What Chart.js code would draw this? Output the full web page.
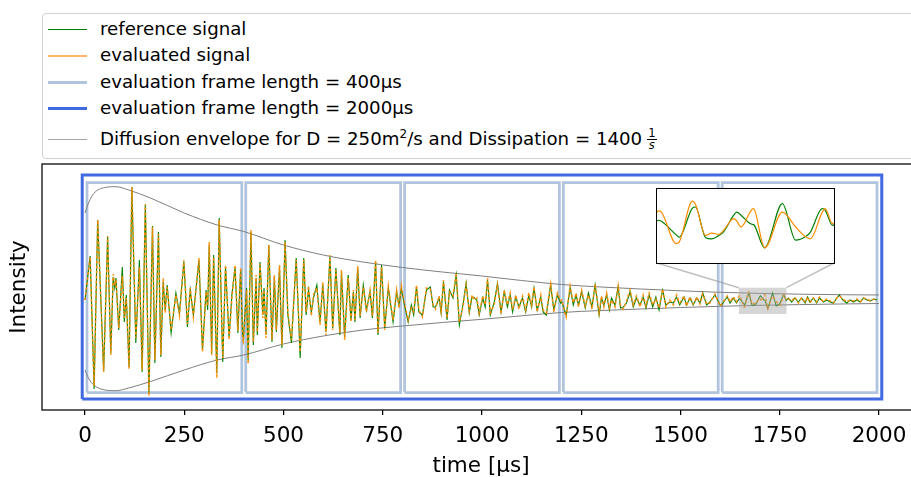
<!DOCTYPE html>
<html>
<head>
<meta charset="utf-8">
<script src="https://cdn.jsdelivr.net/npm/chart.js@4.4.1/dist/chart.umd.min.js"></script>
<style>
  html, body { margin: 0; padding: 0; background: #fff; overflow: hidden; }
  body { width: 911px; height: 477px; position: relative; font-family: "DejaVu Sans", sans-serif; color: #000; }
  #wrap { position: absolute; left: 0; top: 0; width: 920px; height: 477px; }
  #insetBox { position: absolute; left: 656px; top: 188px; width: 179px; height: 76px;
              border: 1.5px solid #000; box-sizing: border-box; background: #fff; }
  #legend { position: absolute; left: 42px; top: 13px; width: 900px; height: 146px;
            border: 1px solid #d0d0d0; border-radius: 4px; box-sizing: border-box; background: #fff; }
  .row { position: absolute; left: 0; height: 22px; width: 880px; font-size: 18.2px; }
  .sw { position: absolute; left: 5px; width: 39px; }
  .lbl { position: absolute; left: 57px; top: 0; height: 22px; line-height: 22px; white-space: nowrap; }
  .frac { display: inline-flex; flex-direction: column; align-items: center; vertical-align: middle;
          font-size: 11.5px; line-height: 10.5px; margin-left: 5px; position: relative; top: -1px; }
  .frac .num { border-bottom: 1px solid #000; padding: 0 1px; }
  sup { font-size: 12px; vertical-align: 7px; line-height: 0; }
</style>
</head>
<body>
<div id="wrap"><canvas id="chartSignal"></canvas></div>
<div id="insetBox"><canvas id="chartInset"></canvas></div>
<div id="legend">
  <div class="row" style="top:4px"><div class="sw" style="top:11px;height:1px;background:#008000"></div><div class="lbl">reference signal</div></div>
  <div class="row" style="top:30px"><div class="sw" style="top:11px;height:2px;background:#ffb766"></div><div class="lbl">evaluated signal</div></div>
  <div class="row" style="top:57px"><div class="sw" style="top:10px;height:3px;background:#b0c4de"></div><div class="lbl">evaluation frame length = 400µs</div></div>
  <div class="row" style="top:83px"><div class="sw" style="top:10px;height:3px;background:#4169e1"></div><div class="lbl">evaluation frame length = 2000µs</div></div>
  <div class="row" style="top:114px"><div class="sw" style="top:11px;height:1px;background:#a6a6a6"></div><div class="lbl">Diffusion envelope for D = 250m<sup>2</sup>/s and Dissipation = 1400<span class="frac"><span class="num">1</span><span class="den"><i>s</i></span></span></div></div>
</div>
<script>
// ===== Datos =====
const xTicks = [0, 250, 500, 750, 1000, 1250, 1500, 1750, 2000];

// tiempo [µs]
const signalTime = [
  0, 13, 23, 32, 47, 57, 65, 71, 75, 78, 85, 94, 99, 104, 111, 118, 128, 137, 144, 152,
  161, 170, 176, 185, 191, 197, 202, 207, 217, 229, 238, 249, 258, 265, 273, 287, 296, 305, 309, 313,
  319, 324, 332, 338, 347, 354, 363, 370, 378, 385, 392, 397,
  399, 407, 411, 418, 424, 431, 434, 441, 448, 451, 456, 463, 471, 477, 482, 490, 496, 504, 511, 520,
  532, 542, 551, 557, 563, 570, 576, 584, 592, 599, 607, 617, 624, 632, 642, 646, 654, 663, 670, 676,
  680, 687, 693, 701, 709, 718, 724, 732, 738, 747, 755, 764, 776, 785, 791,
  797, 803, 814, 822, 828, 835, 841, 850, 860, 870, 877, 883, 892, 897, 903, 912, 918, 927, 935, 943,
  952, 960, 968, 975, 981, 987, 993, 1002, 1008, 1014, 1021, 1031, 1039, 1048, 1056, 1064, 1071, 1077, 1085, 1093,
  1102, 1110, 1118, 1125, 1131, 1139, 1148, 1154, 1162, 1173, 1181, 1190, 1198,
  1201, 1212, 1222, 1230, 1237, 1243, 1251, 1260, 1268, 1277, 1285, 1295, 1301, 1307, 1314, 1321, 1326, 1335, 1343, 1349,
  1356, 1364, 1373, 1381, 1389, 1398, 1406, 1413, 1421, 1430, 1438, 1446, 1455, 1463, 1473, 1482, 1490, 1498, 1509, 1515,
  1524, 1532, 1541, 1549, 1556, 1566, 1574, 1587, 1600,
  1604, 1612, 1618, 1625, 1633, 1641, 1648, 1650, 1660, 1662, 1671, 1673, 1680, 1684, 1689, 1692, 1699, 1701, 1704, 1710,
  1712, 1713, 1720, 1732, 1741, 1748, 1751, 1759, 1761, 1766, 1772, 1780, 1788, 1797, 1805, 1814, 1820, 1826, 1835, 1843,
  1850, 1860, 1868, 1877, 1885, 1894, 1900, 1909, 1919, 1927, 1936, 1944, 1953, 1961, 1970, 1978, 1987, 1995
];

const referenceSignal = [
  0, 0.44, -0.89, 0.80, -0.71, 0.63, -0.53, 0.23, 0.12, 0.22, -0.30, 0.33, -0.22, 0.05, -0.67, 1.13, -0.43, 0.40, -0.72, 0.95,
  -0.93, 0.74, -0.63, 0.68, -0.57, 0.18, -0.10, 0.15, -0.33, 0.07, -0.13, 0.38, -0.27, 0.10, -0.15, 0.40, -0.50, 0.10, -0.10, 0.55,
  -0.53, 0.45, -0.73, 0.82, -0.62, 0.33, -0.37, 0.05, 0.33, -0.33, 0.30, -0.35,
  -0.38, 0.12, -0.60, 0.68, -0.45, 0.22, -0.35, 0.38, -0.15, 0.12, -0.35, 0.55, -0.42, 0.23, -0.32, 0.33, -0.48, 0.60, -0.15, -0.43,
  0.42, -0.58, 0.42, -0.15, 0.10, -0.12, 0.03, 0.15, -0.22, 0.15, -0.32, 0.43, -0.28, 0.32, -0.35, 0.28, -0.37, 0.25, -0.20, 0.08,
  -0.22, 0.32, -0.18, 0.15, -0.10, 0.08, -0.18, 0.38, -0.35, 0.35, -0.28, 0.12, -0.22, 0.08, -0.05,
  0.12, -0.02, -0.22, -0.05, -0.15, 0.13, -0.12, -0.15, 0.10, 0.13, -0.07, -0.07, 0.02, -0.13, 0.18, -0.20, 0.10, 0.02, 0.25, -0.25,
  -0.05, 0.17, -0.13, 0.03, 0.02, 0.00, -0.15, 0.02, -0.07, 0.20, -0.15, -0.02, 0.17, -0.12, 0.08, -0.07, 0.05, -0.12, 0.03, -0.07,
  0.02, -0.12, 0.05, -0.07, 0.12, -0.10, 0.03, -0.12, -0.15, 0.15, -0.10, 0.05, -0.03,
  -0.02, -0.15, 0.12, -0.05, 0.05, -0.05, 0.08, -0.08, 0.07, -0.07, 0.15, -0.15, 0.02, -0.05, 0.05, -0.10, 0.02, -0.05, 0.13, -0.08,
  -0.07, -0.03, 0.08, -0.07, 0.02, -0.05, 0.03, -0.08, 0.05, -0.07, 0.03, -0.10, 0.10, -0.05, -0.02, -0.03, 0.03, -0.05, 0.03, -0.05,
  0.02, -0.05, 0.02, -0.03, 0.07, -0.05, -0.02, 0.05, -0.05,
  -0.05, 0.00, 0.03, -0.03, 0.02, -0.03, 0.012, 0.008, -0.040, -0.048, 0.055, 0.059, -0.050, -0.054, -0.042, -0.030, 0.030, 0.041, 0.030, 0.000,
  -0.003, -0.006, -0.086, 0.071, -0.059, -0.045, -0.030, 0.053, 0.048, -0.006, 0.02, -0.02, 0.02, -0.02, 0.02, -0.03, 0.03, -0.02, 0.02, -0.03,
  0.02, -0.02, 0.00, -0.02, -0.03, 0.02, 0.05, 0.00, -0.03, 0.00, -0.02, 0.00, -0.02, 0.02, 0.00, -0.01, 0.01, 0.00
];

const evaluatedSignal = [
  0, 0.43, -0.86, 0.80, -0.72, 0.64, -0.55, 0.26, 0.14, 0.20, -0.28, 0.24, -0.18, 0.02, -0.69, 1.13, -0.38, 0.33, -0.70, 0.96,
  -0.96, 0.73, -0.60, 0.66, -0.55, 0.22, -0.13, 0.13, -0.30, 0.05, -0.16, 0.40, -0.24, 0.12, -0.17, 0.42, -0.52, 0.08, -0.06, 0.58,
  -0.55, 0.43, -0.78, 0.80, -0.58, 0.35, -0.40, 0.02, 0.35, -0.31, 0.32, -0.40,
  -0.42, 0.10, -0.64, 0.70, -0.42, 0.25, -0.32, 0.36, -0.18, 0.10, -0.38, 0.55, -0.40, 0.25, -0.30, 0.35, -0.45, 0.58, -0.12, -0.40,
  0.40, -0.52, 0.40, -0.12, 0.14, -0.16, 0.06, 0.12, -0.25, 0.18, -0.35, 0.45, -0.30, 0.30, -0.33, 0.30, -0.40, 0.22, -0.22, 0.10,
  -0.20, 0.34, -0.16, 0.13, -0.12, 0.10, -0.16, 0.40, -0.33, 0.33, -0.30, 0.14, -0.20, 0.10, -0.08,
  0.14, 0.00, -0.20, -0.08, -0.12, 0.15, -0.10, -0.17, 0.12, 0.11, -0.05, -0.09, 0.04, -0.11, 0.20, -0.18, 0.08, 0.04, 0.27, -0.22,
  -0.07, 0.15, -0.11, 0.05, 0.00, 0.02, -0.13, 0.04, -0.05, 0.22, -0.13, -0.04, 0.15, -0.14, 0.10, -0.05, 0.07, -0.10, 0.05, -0.09,
  0.04, -0.10, 0.07, -0.05, 0.13, -0.12, 0.05, -0.10, -0.13, 0.16, -0.12, 0.07, -0.01,
  0.00, -0.17, 0.14, -0.03, 0.07, -0.07, 0.10, -0.06, 0.05, -0.09, 0.16, -0.13, 0.04, -0.07, 0.07, -0.08, 0.00, -0.07, 0.14, -0.06,
  -0.09, -0.01, 0.10, -0.05, 0.04, -0.07, 0.05, -0.06, 0.07, -0.05, 0.01, -0.08, 0.11, -0.07, 0.00, -0.05, 0.05, -0.03, 0.04, -0.06,
  0.03, -0.04, 0.03, -0.04, 0.06, -0.04, -0.03, 0.06, -0.06,
  -0.04, 0.01, 0.04, -0.02, 0.03, -0.02, 0.045, 0.041, -0.071, -0.066, 0.080, 0.070, -0.042, -0.034, -0.038, -0.025, 0.018, 0.010, -0.012, 0.040,
  0.053, 0.050, -0.086, 0.041, -0.012, -0.048, -0.054, 0.040, 0.053, 0.000, 0.01, -0.01, 0.03, -0.03, 0.02, -0.02, 0.03, -0.03, 0.02, -0.02,
  0.03, -0.02, 0.01, -0.01, -0.03, 0.02, 0.04, 0.01, -0.02, 0.00, -0.01, 0.01, -0.02, 0.02, 0.01, -0.01, 0.01, 0.00
];

// envolvente de difusión
const envelopeTime  = [0, 10, 22, 50, 78, 110, 165, 250, 333, 400, 500, 600, 700, 800, 900, 1000, 1100, 1200, 1300, 1400, 1500, 1600, 1700, 1800, 1900, 2000];
const envelopeUpper = [0.87, 0.98, 1.065, 1.125, 1.133, 1.10, 1.02, 0.87, 0.75, 0.685, 0.55, 0.45, 0.38, 0.325, 0.28, 0.24, 0.195, 0.155, 0.13, 0.11, 0.092, 0.077, 0.066, 0.058, 0.053, 0.05];
const envelopeLower = [-0.70, -0.79, -0.85, -0.90, -0.907, -0.88, -0.815, -0.70, -0.60, -0.55, -0.44, -0.36, -0.30, -0.26, -0.225, -0.193, -0.158, -0.125, -0.105, -0.09, -0.075, -0.063, -0.053, -0.046, -0.04, -0.035];

// ventanas de evaluación
const shortFrameStarts = [0, 400, 800, 1200, 1600];
const shortFrameLength = 400;
const longFrameStarts = [0];
const longFrameLength = 2000;

// zona ampliada
const zoomRangeX = [1647, 1767];
const zoomRangeY = [-0.14, 0.123];

// ===== Estilo =====
const X_MIN = -108.3, X_MAX = 2103.3, Y_MIN = -1.10, Y_MAX = 1.36;
const SHORT_PAD = { x: 5, top: 1.175, bottom: -0.925 };
const LONG_PAD = { x: 7, top: 1.25, bottom: -0.99 };
const INSET_CORNERS = { left: 657, right: 834, bottom: 263 };
const AXIS_FONT = { family: "DejaVu Sans", size: 21.5, lineHeight: 1 };

const pts = (xs, ys) => xs.map((x, i) => ({ x, y: ys[i] }));

function rectPts(x0, x1, y0, y1) {
  return [{ x: x0, y: y0 }, { x: x1, y: y0 }, { x: x1, y: y1 }, { x: x0, y: y1 }, { x: x0, y: y0 }];
}

function frameDataset(x0, x1, pad, color, width) {
  return {
    data: rectPts(x0, x1, pad.bottom, pad.top),
    borderColor: color,
    borderWidth: width,
    borderJoinStyle: "miter",
    pointRadius: 0,
    tension: 0,
    fill: false
  };
}

const spines = {
  id: "spines",
  afterDraw(chart) {
    const { ctx, chartArea: a } = chart;
    ctx.save();
    ctx.strokeStyle = "#000";
    ctx.lineWidth = 1.25;
    ctx.strokeRect(a.left, a.top, a.right - a.left, a.bottom - a.top);
    ctx.restore();
  }
};

const zoomMarker = {
  id: "zoomMarker",
  afterDatasetsDraw(chart) {
    const { ctx, scales: { x, y } } = chart;
    const x0 = x.getPixelForValue(zoomRangeX[0]);
    const x1 = x.getPixelForValue(zoomRangeX[1]);
    const y0 = y.getPixelForValue(zoomRangeY[1]);
    const y1 = y.getPixelForValue(zoomRangeY[0]);
    ctx.save();
    ctx.fillStyle = "rgba(165,165,165,0.45)";
    ctx.fillRect(x0, y0, x1 - x0, y1 - y0);
    ctx.strokeStyle = "rgba(150,150,150,0.6)";
    ctx.lineWidth = 1.5;
    ctx.beginPath();
    ctx.moveTo(INSET_CORNERS.left, INSET_CORNERS.bottom);
    ctx.lineTo(x0, y0);
    ctx.moveTo(INSET_CORNERS.right, INSET_CORNERS.bottom);
    ctx.lineTo(x1, y0);
    ctx.stroke();
    ctx.restore();
  }
};

// ===== Gráficos =====
crearGraficoSenal();
crearGraficoInset();

function crearGraficoSenal() {
  const datasets = [
    {
      data: pts(signalTime, evaluatedSignal),
      borderColor: "rgba(255,140,0,0.9)",
      borderWidth: 1.5,
      borderDash: [3, 2],
      pointRadius: 0,
      tension: 0
    },
    {
      data: pts(signalTime, referenceSignal),
      borderColor: "#008000",
      borderWidth: 1.1,
      pointRadius: 0,
      tension: 0
    },
    {
      data: pts(envelopeTime, envelopeUpper),
      borderColor: "#7f7f7f",
      borderWidth: 1,
      pointRadius: 0,
      cubicInterpolationMode: "monotone"
    },
    {
      data: pts(envelopeTime, envelopeLower),
      borderColor: "#7f7f7f",
      borderWidth: 1,
      pointRadius: 0,
      cubicInterpolationMode: "monotone"
    }
  ];
  shortFrameStarts.forEach(s => {
    datasets.push(frameDataset(s + SHORT_PAD.x, s + shortFrameLength - SHORT_PAD.x, SHORT_PAD, "#b0c4de", 2.75));
  });
  longFrameStarts.forEach(s => {
    datasets.push(frameDataset(s - LONG_PAD.x, s + longFrameLength + LONG_PAD.x, LONG_PAD, "#4169e1", 3));
  });

  new Chart(document.getElementById("chartSignal"), {
    type: "line",
    data: { datasets },
    options: {
      responsive: true,
      maintainAspectRatio: false,
      animation: false,
      layout: { padding: { top: 164, left: 0, right: 0, bottom: 0 } },
      plugins: { legend: { display: false }, tooltip: { enabled: false } },
      scales: {
        x: {
          type: "linear",
          min: X_MIN,
          max: X_MAX,
          afterBuildTicks: s => { s.ticks = xTicks.map(v => ({ value: v })); },
          afterFit: s => { s.height = 67; },
          grid: { display: true, drawOnChartArea: false, drawTicks: true, tickLength: 5, color: "#000", lineWidth: 1.25 },
          border: { display: false },
          ticks: {
            color: "#000", padding: 9, maxRotation: 0, autoSkip: false,
            font: { family: "DejaVu Sans", size: 21.5 },
            callback: v => String(v)
          },
          title: { display: true, text: "time [µs]", color: "#000", padding: { top: 0, bottom: 0 }, font: AXIS_FONT }
        },
        y: {
          type: "linear",
          min: Y_MIN,
          max: Y_MAX,
          afterFit: s => { s.width = 42; },
          grid: { display: false },
          border: { display: false },
          ticks: { display: false },
          title: { display: true, text: "Intensity", color: "#000", padding: { top: 9, bottom: 0 }, font: AXIS_FONT }
        }
      }
    },
    plugins: [zoomMarker, spines]
  });
}

function crearGraficoInset() {
  new Chart(document.getElementById("chartInset"), {
    type: "line",
    data: {
      datasets: [
        {
          data: pts(signalTime, evaluatedSignal),
          borderColor: "#ff8c00",
          borderWidth: 1.2,
          pointRadius: 0,
          cubicInterpolationMode: "monotone"
        },
        {
          data: pts(signalTime, referenceSignal),
          borderColor: "#008000",
          borderWidth: 1.2,
          pointRadius: 0,
          cubicInterpolationMode: "monotone"
        }
      ]
    },
    options: {
      responsive: true,
      maintainAspectRatio: false,
      animation: false,
      layout: { padding: 0 },
      plugins: { legend: { display: false }, tooltip: { enabled: false } },
      scales: {
        x: { type: "linear", display: false, min: zoomRangeX[0], max: zoomRangeX[1] },
        y: { type: "linear", display: false, min: zoomRangeY[0], max: zoomRangeY[1] }
      }
    }
  });
}
</script>
</body>
</html>
